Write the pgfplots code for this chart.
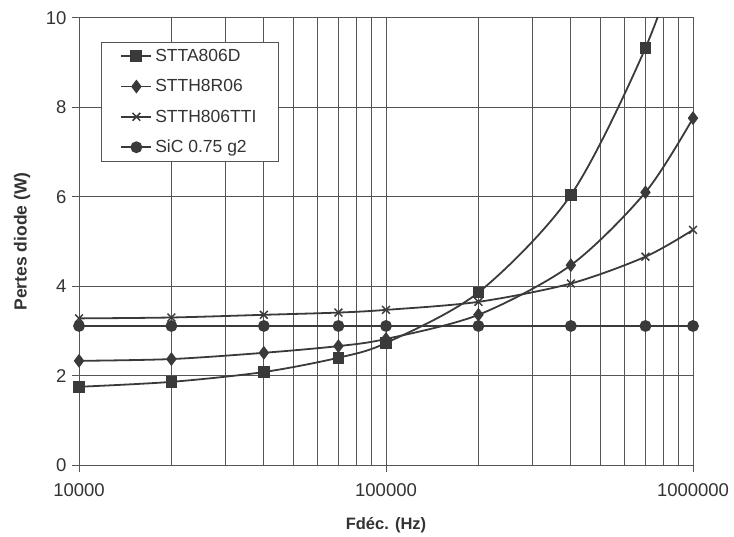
\documentclass[border=0pt]{standalone}
\usepackage{pgfplots}
\pgfplotsset{compat=1.18}
\usepackage{fontspec}
\setmainfont{Liberation Sans}
\definecolor{ln}{HTML}{3A3A3A}
\definecolor{gr}{HTML}{555555}
\definecolor{tx}{HTML}{333333}
\begin{document}
\begin{tikzpicture}
\path[use as bounding box] (-79pt,-71pt) rectangle (655pt,465pt);
\begin{axis}[
  at={(0pt,0pt)}, anchor=south west,
  scale only axis, width=614pt, height=447pt,
  xmode=log, xmin=1e4, xmax=1e6, ymin=0, ymax=10,
  xtick={1e4,1e5,1e6}, xticklabels={10000,100000,1000000},
  ytick={0,2,4,6,8,10},
  minor xtick={2e4,3e4,4e4,5e4,6e4,7e4,8e4,9e4,2e5,3e5,4e5,5e5,6e5,7e5,8e5,9e5},
  xmajorgrids, xminorgrids, ymajorgrids,
  grid style={gr, line width=1pt},
  minor grid style={gr, line width=1pt},
  axis line style={gr, line width=1pt},
  tick align=outside, major tick length=7pt, minor tick length=0pt,
  tick style={gr, line width=1pt},
  xtick pos=bottom, ytick pos=left,
  /pgf/number format/assume math mode=true,
  tick label style={font=\fontsize{18.5}{20}\selectfont, text=tx},
  xticklabel style={yshift=-8pt},
  yticklabel style={xshift=-2pt},
  xlabel={\textbf{Fdéc. (Hz)}}, ylabel={\textbf{Pertes diode (W)}},
  xlabel style={font=\fontsize{16.5}{18}\selectfont, text=tx, at={(axis description cs:0.5,0)}, anchor=center, yshift=-60pt},
  ylabel style={font=\fontsize{17.5}{19}\selectfont, text=tx, at={(axis description cs:0,0.5)}, anchor=center, yshift=57pt},
  legend image code/.code={
    \draw[#1, mark=none] (0pt,0pt) -- (30pt,0pt);
    \draw[#1, only marks] plot coordinates {(15pt,0pt)};
  },
  legend style={at={(axis description cs:0.0358,0.9463)}, anchor=north west, draw=gr, line width=1pt,
    fill=white, font=\fontsize{17.5}{19}\selectfont, text=tx,
    row sep=16.5pt, inner xsep=19pt, inner ysep=7pt, cells={anchor=west},
    nodes={inner xsep=3pt, inner ysep=0pt}},
  legend cell align=left,
]
\addplot[ln, line width=1.8pt, smooth, mark=square*, mark size=5pt, mark options={fill=ln, solid}] coordinates {
(1e4,1.75) (2e4,1.86) (4e4,2.08) (7e4,2.40) (1e5,2.73) (2e5,3.86) (4e5,6.04) (7e5,9.33) (1e6,12.3)};
\addlegendentry{STTA806D}
\addplot[ln, line width=1.8pt, smooth, mark=diamond*, mark size=5.5pt, mark options={fill=ln, solid}] coordinates {
(1e4,2.33) (2e4,2.37) (4e4,2.51) (7e4,2.66) (1e5,2.82) (2e5,3.36) (4e5,4.47) (7e5,6.10) (1e6,7.76)};
\addlegendentry{STTH8R06}
\addplot[ln, line width=1.8pt, smooth, mark=x, mark size=5.5pt, mark options={solid, line width=1.5pt}] coordinates {
(1e4,3.28) (2e4,3.30) (4e4,3.36) (7e4,3.41) (1e5,3.47) (2e5,3.65) (4e5,4.06) (7e5,4.66) (1e6,5.26)};
\addlegendentry{STTH806TTI}
\addplot[ln, line width=1.8pt, smooth, mark=*, mark size=5pt, mark options={fill=ln, solid}] coordinates {
(1e4,3.11) (2e4,3.11) (4e4,3.11) (7e4,3.11) (1e5,3.11) (2e5,3.11) (4e5,3.11) (7e5,3.11) (1e6,3.11)};
\addlegendentry{SiC 0.75 g2}
\end{axis}
\end{tikzpicture}
\end{document}
